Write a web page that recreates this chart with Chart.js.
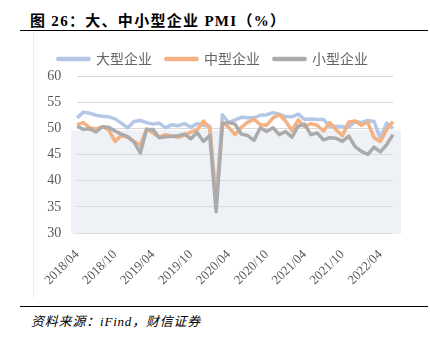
<!DOCTYPE html>
<html><head><meta charset="utf-8">
<script src="https://cdn.jsdelivr.net/npm/chart.js@4.4.1/dist/chart.umd.min.js"></script>
<style>
html,body{margin:0;padding:0;background:#fff;width:430px;height:344px;overflow:hidden;}
#title{position:absolute;left:30px;top:9px;font:bold 15px "Liberation Serif","Noto Sans CJK SC";letter-spacing:1.3px;color:#000;white-space:nowrap;}
#rule1{position:absolute;left:20px;top:30px;width:408px;height:0;border-top:1.5px solid #000;}
#rule2{position:absolute;left:20px;top:306px;width:408px;height:0;border-top:1.5px solid #000;}
#src{position:absolute;left:31px;top:311px;font:italic 13px "Liberation Serif","Noto Sans CJK SC";letter-spacing:0.8px;color:#000;white-space:nowrap;}
#frame{position:absolute;left:33px;top:32px;width:0;height:266px;border-left:1px solid #eeeeee;}
#wrap{position:absolute;left:33px;top:32px;width:388px;height:268px;}
</style></head><body>
<div id="title">图 26：大、中小型企业 PMI（%）</div>
<div id="rule1"></div>
<div id="frame"></div>
<div id="wrap"><canvas id="c" width="388" height="268"></canvas></div>
<div id="rule2"></div>
<div id="src">资料来源：iFind，财信证券</div>
<script>
const months = [
 "2018/04","2018/05","2018/06","2018/07","2018/08","2018/09","2018/10","2018/11","2018/12",
 "2019/01","2019/02","2019/03","2019/04","2019/05","2019/06","2019/07","2019/08","2019/09","2019/10","2019/11","2019/12",
 "2020/01","2020/02","2020/03","2020/04","2020/05","2020/06","2020/07","2020/08","2020/09","2020/10","2020/11","2020/12",
 "2021/01","2021/02","2021/03","2021/04","2021/05","2021/06","2021/07","2021/08","2021/09","2021/10","2021/11","2021/12",
 "2022/01","2022/02","2022/03","2022/04","2022/05","2022/06"];
const seriesNames = ["大型企业","中型企业","小型企业"];
const large = [52.0,53.1,52.9,52.5,52.3,52.2,51.8,51.0,50.1,
 51.3,51.5,51.1,50.8,51.0,50.1,50.7,50.5,50.9,50.2,50.9,50.6,
 50.4,36.3,52.6,51.1,51.6,52.1,52.0,52.0,52.5,52.6,53.0,52.7,
 52.2,52.2,52.7,51.7,51.8,51.7,51.7,50.3,50.4,50.3,50.2,51.3,
 51.1,51.5,51.3,48.1,51.0,50.0];
const medium = [50.7,51.1,50.1,49.9,50.3,49.7,47.5,48.6,48.3,
 47.5,46.8,49.9,49.1,48.3,48.8,48.5,48.3,48.7,49.3,49.7,51.4,
 50.0,35.5,51.1,50.2,48.8,50.2,51.2,51.7,50.7,50.6,52.0,52.6,
 51.4,49.6,51.6,50.3,50.9,50.6,49.5,51.1,49.7,48.6,51.2,51.4,
 50.6,51.2,48.2,47.5,49.8,51.3];
const small = [50.4,49.8,49.9,49.3,50.3,50.2,49.5,48.9,48.4,
 47.4,45.3,49.8,49.8,48.2,48.4,48.5,48.6,48.9,48.0,49.2,47.5,
 48.6,34.1,50.9,51.1,50.8,48.9,48.6,47.7,50.1,49.4,50.1,48.8,
 49.4,48.3,50.4,50.8,48.8,49.1,47.8,48.2,48.1,47.5,48.5,46.5,
 45.6,45.0,46.4,45.5,46.9,48.8];
const yTicks = [30,35,40,45,50,55,60];
const shadeLevel = 50;

const shadePlugin = {
  id: 'shade',
  beforeDraw(chart) {
    const {ctx, chartArea: a, scales: {y}} = chart;
    const top = y.getPixelForValue(shadeLevel) + 2;
    ctx.save();
    ctx.fillStyle = '#EEF2F7';
    ctx.fillRect(a.left - 6, top, (a.right + 8) - (a.left - 6), a.bottom + 1 - top);
    ctx.restore();
  }
};

const colors = ['#B4C7E7', '#F4B183', '#ABABAB'];
const values = [large, medium, small];
new Chart(document.getElementById('c'), {
  type: 'line',
  data: {
    labels: months,
    datasets: seriesNames.map((n, k) => ({
      label: n,
      data: values[k],
      borderColor: colors[k],
      backgroundColor: colors[k],
      borderWidth: 3.5,
      pointRadius: 0,
      fill: false,
      tension: 0,
      borderJoinStyle: 'round',
      order: 3 - k
    }))
  },
  options: {
    responsive: false,
    animation: false,
    layout: {padding: {top: 6, right: 28, left: 0, bottom: 0}},
    plugins: {
      tooltip: {enabled: false},
      legend: {
        position: 'top',
        labels: {
          boxWidth: 31, boxHeight: 1, padding: 14,
          color: '#666666',
          font: {family: '"Noto Sans CJK SC"', size: 14},
          sort: (a, b) => a.datasetIndex - b.datasetIndex
        }
      }
    },
    scales: {
      x: {
        offset: false,
        grid: {display: false, drawTicks: false},
        border: {display: false},
        ticks: {
          autoSkip: false, maxRotation: 45, minRotation: 45, padding: 14,
          color: '#595959',
          font: {family: '"Liberation Serif"', size: 13},
          callback: (v, i) => (i % 6 === 0 ? months[i] : '')
        },
        afterFit: (s) => { s.height = 67; }
      },
      y: {
        min: 30, max: 60,
        afterBuildTicks: (s) => { s.ticks = yTicks.map(v => ({value: v})); },
        grid: {color: '#D9D9D9', lineWidth: 1, drawTicks: false},
        border: {display: false},
        ticks: {
          padding: 16, color: '#595959',
          font: {family: '"Liberation Serif"', size: 14}
        },
        afterFit: (s) => { s.width = 40; }
      }
    }
  },
  plugins: [shadePlugin]
});
</script>
</body></html>
